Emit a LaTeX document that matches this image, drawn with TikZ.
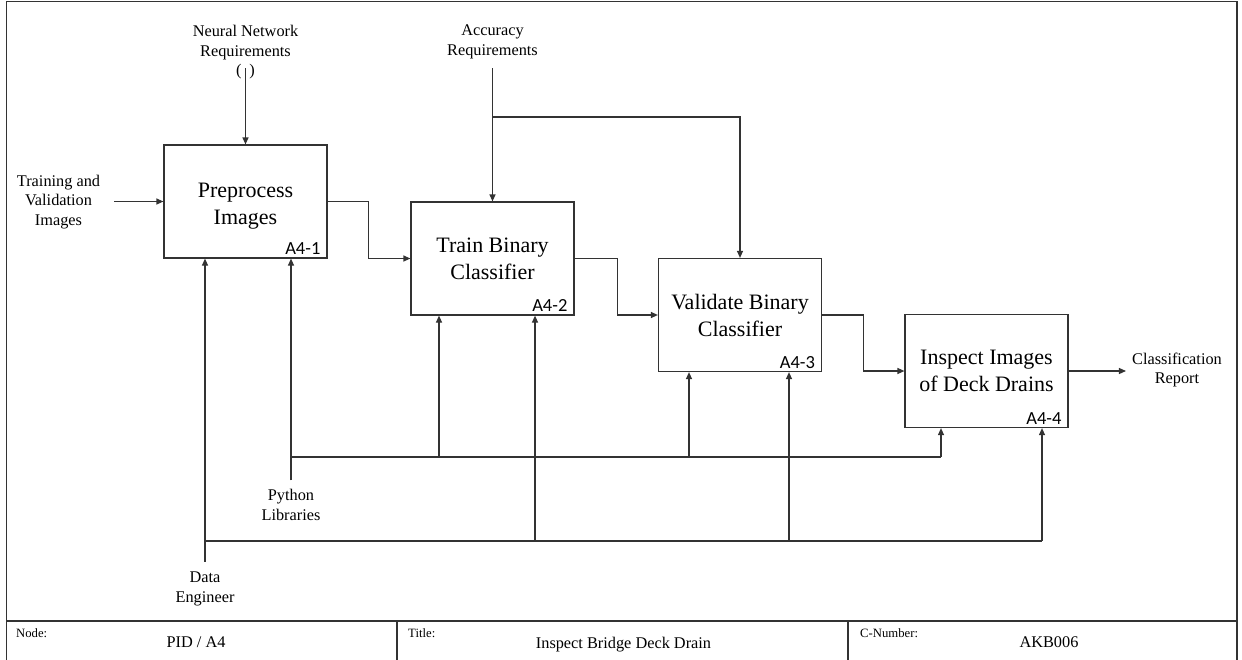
\documentclass[tikz,border=0pt]{standalone}
\usepackage{fontspec}
\setmainfont{Liberation Serif}
\newfontfamily\calibri{Carlito}
\usetikzlibrary{arrows.meta,calc}
\begin{document}
\begin{tikzpicture}[x=1pt,y=-1pt,
  ln/.style={draw=black!80, line width=1.2pt},
  arr/.style={ln, -{Triangle[length=7pt,width=6pt]}},
  fn/.style={draw=black!80, line width=1.2pt, minimum width=163pt, minimum height=113pt,
    inner sep=0pt, align=center, font=\fontsize{22}{27}\selectfont},
  lbl/.style={align=center, font=\fontsize{16.3}{19.5}\selectfont, inner sep=0pt},
  num/.style={font=\calibri\fontsize{18.5}{20}\selectfont, anchor=base east, inner sep=0pt},
  hd/.style={font=\fontsize{12.7}{14}\selectfont, anchor=base west, inner sep=0pt},
  val/.style={font=\fontsize{16.3}{19}\selectfont, anchor=base, inner sep=0pt}]

\useasboundingbox (0,0) rectangle (1242,659);

% frame and title block
\draw[ln] (6.5,670) -- (6.5,1.5) -- (1237,1.5) -- (1237,670);
\draw[ln] (6.5,621) -- (1237,621);
\draw[ln] (397,621) -- (397,670);
\draw[ln] (848,621) -- (848,670);
\node[hd] (nodeh) at (16,637) {Node:};
\node[val] (nodev) at (196,647) {PID / A4};
\node[hd] (titleh) at (408,637) {Title:};
\node[val] (titlev) at (623.5,648) {Inspect Bridge Deck Drain};
\node[hd] (cnh) at (860,637) {C-Number:};
\node[val] (cnv) at (1049,647) {AKB006};

% function boxes
\node[fn] (b1) at (245.5,201.5) {\rule{0pt}{23.5pt}Preprocess\\Images};
\node[fn] (b2) at (492.5,258.5) {Train Binary\\Classifier};
\node[fn] (b3) at (740,315) {Validate Binary\\Classifier};
\node[fn] (b4) at (986.5,371) {Inspect Images\\of Deck Drains};
\node[num] (n1) at ($(b1.south east)+(-7,-4)$) {A4-1};
\node[num] (n2) at ($(b2.south east)+(-7,-4)$) {A4-2};
\node[num] (n3) at ($(b3.south east)+(-7,-4)$) {A4-3};
\node[num] (n4) at ($(b4.south east)+(-7,-4)$) {A4-4};

% labels
\node[lbl] (nn) at (245.5,52.5) {Neural Network\\Requirements\\(\hspace{8pt})};
\node[lbl] (acc) at (492.5,42) {Accuracy\\Requirements};
\node[lbl] (tvi) at (58.5,202) {Training and\\Validation\\Images};
\node[lbl] (cr) at (1177,370) {Classification\\Report};
\node[lbl] (py) at (291,505) {Python\\Libraries};
\node[lbl] (de) at (205,589) {Data\\Engineer};

% controls
\coordinate (nnt) at (245.5,68);
\draw[arr] (nnt) -- (b1.north);
\coordinate (acct) at (492.5,68);
\draw[arr] (acct) -- (b2.north);
\coordinate (accj) at (492.5,117);
\draw[arr] (accj) -| (b3.north);

% input / outputs
\draw[arr, shorten <=14pt] (tvi.east |- b1.west) -- (b1.west);
\draw[arr] (b1.east) -- ++(41,0) |- (b2.west);
\draw[arr] (b2.east) -- ++(43,0) |- (b3.west);
\draw[arr] (b3.east) -- ++(41,0) |- (b4.west);
\draw[arr, shorten >=6pt] (b4.east) -- (b4.east -| cr.west);

% mechanisms: Python Libraries
\draw[arr, shorten <=9pt] (py.north) -- (py.north |- b1.south);
\coordinate (pj1) at (291,457);
\coordinate (pj2) at (439,457);
\coordinate (pj3) at (689,457);
\coordinate (pj4) at (941,457);
\draw[ln] (pj1) -- (pj4);
\draw[arr] (pj2) -- (pj2 |- b2.south);
\draw[arr] (pj3) -- (pj3 |- b3.south);
\draw[arr] (pj4) -- (pj4 |- b4.south);

% mechanisms: Data Engineer
\draw[arr, shorten <=10pt] (de.north) -- (de.north |- b1.south);
\coordinate (dj1) at (205,541);
\coordinate (dj2) at (535,541);
\coordinate (dj3) at (789,541);
\coordinate (dj4) at (1042,541);
\draw[ln] (dj1) -- (dj4);
\draw[arr] (dj2) -- (dj2 |- b2.south);
\draw[arr] (dj3) -- (dj3 |- b3.south);
\draw[arr] (dj4) -- (dj4 |- b4.south);
\end{tikzpicture}
\end{document}
